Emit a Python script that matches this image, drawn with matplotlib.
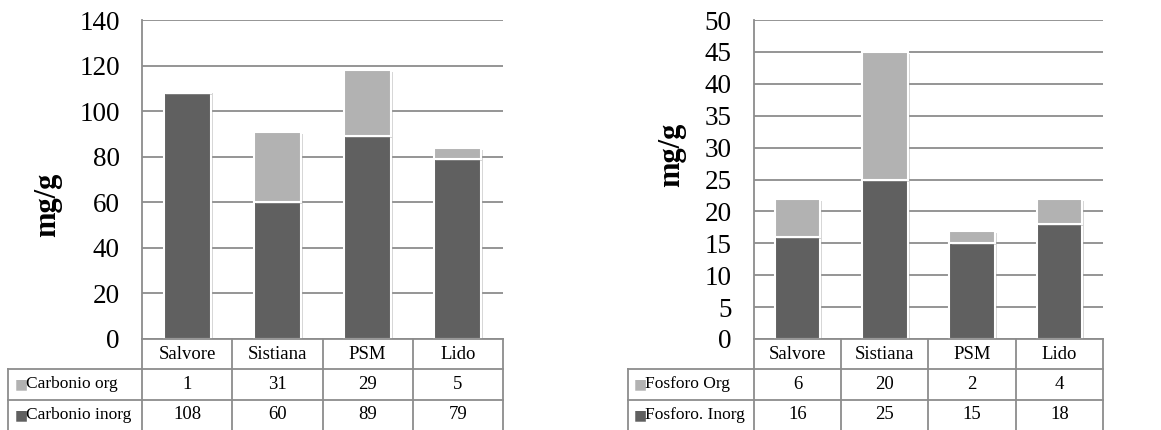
import matplotlib.pyplot as plt
import matplotlib.patheffects as pe

siti = ["Salvore", "Sistiana", "PSM", "Lido"]

carbonio_org = [1, 31, 29, 5]
carbonio_inorg = [108, 60, 89, 79]

fosforo_org = [6, 20, 2, 4]
fosforo_inorg = [16, 25, 15, 18]

scuro = "#606060"
chiaro = "#b2b2b2"
griglia = "#8c8c8c"

plt.rcParams['font.family'] = ['Liberation Serif', 'DejaVu Serif']

W, H = 1161, 430
fig = plt.figure(figsize=(W / 100, H / 100), dpi=100)


def box(x0, y0, x1, y1):
    # pixel -> coordinate figura
    return [x0 / W, 1 - y1 / H, (x1 - x0) / W, (y1 - y0) / H]


def pannello(ax_x0, ax_x1, lab_x0, ymax, passo, org, inorg, nome_org, nome_inorg, ylab_xy):
    top, base = 20, 339
    ax = fig.add_axes(box(ax_x0, top, ax_x1, base))
    x = list(range(len(siti)))
    ombra = [pe.SimplePatchShadow(offset=(1.5, -1.5), shadow_rgbFace="#999999", alpha=0.4), pe.Normal()]
    b1 = ax.bar(x, inorg, width=0.52, color=scuro, edgecolor="white", linewidth=1.5, zorder=3)
    b2 = ax.bar(x, org, bottom=inorg, width=0.52, color=chiaro, edgecolor="white", linewidth=1.5, zorder=3)
    for p in list(b1) + list(b2):
        p.set_path_effects(ombra)
    ax.set_xlim(-0.5, len(siti) - 0.5)
    ax.set_ylim(0, ymax)
    ax.set_yticks(range(0, ymax + 1, passo))
    ax.tick_params(axis='y', length=0, pad=16, labelsize=19.5)
    ax.set_xticks([])
    ax.grid(axis='y', color=griglia, linewidth=1.3, zorder=0)
    for s in ["top", "right", "bottom"]:
        ax.spines[s].set_visible(False)
    ax.spines["left"].set_color(griglia)
    ax.spines["left"].set_linewidth(1.3)

    # tabella dati
    n = len(siti)
    cw = (ax_x1 - ax_x0) / n
    lw = (ax_x0 - lab_x0) / cw
    tb = fig.add_axes(box(lab_x0, base, ax_x1, H))
    tb.set_xlim(-0.5 - lw, n - 0.5)
    tb.set_ylim(3, 0)
    tb.axis("off")
    kw = dict(color=griglia, linewidth=1.3, clip_on=False)
    tb.plot([-0.5, n - 0.5], [0, 0], **kw)
    tb.plot([-0.5 - lw, n - 0.5], [1, 1], **kw)
    tb.plot([-0.5 - lw, n - 0.5], [2, 2], **kw)
    tb.plot([-0.5 - lw, -0.5 - lw], [1, 3], **kw)
    for i in range(n + 1):
        tb.plot([i - 0.5, i - 0.5], [0, 3], **kw)
    fs = 13.5
    for i, s in enumerate(siti):
        tb.text(i, 0.5, s, ha="center", va="center", fontsize=fs)
        tb.text(i, 1.5, str(org[i]), ha="center", va="center", fontsize=fs)
        tb.text(i, 2.5, str(inorg[i]), ha="center", va="center", fontsize=fs)
    for r, (nome, col) in enumerate([(nome_org, chiaro), (nome_inorg, scuro)]):
        tb.text(-0.5 - lw + 0.07, 1.5 + r, "■", color=col, ha="left", va="center", fontsize=10,
                family=["DejaVu Sans"])
        tb.text(-0.5 - lw + 0.2, 1.5 + r, nome, ha="left", va="center", fontsize=12.5)

    fig.text(ylab_xy[0] / W, 1 - ylab_xy[1] / H, "mg/g", rotation=90, ha="center", va="center",
             fontsize=22, fontweight="bold")


pannello(142, 503, 8, 140, 20, carbonio_org, carbonio_inorg,
         "Carbonio org", "Carbonio inorg", (48, 205))
pannello(754, 1103, 628, 50, 5, fosforo_org, fosforo_inorg,
         "Fosforo Org", "Fosforo. Inorg", (672, 155))

fig.savefig("out.png", dpi=100)
